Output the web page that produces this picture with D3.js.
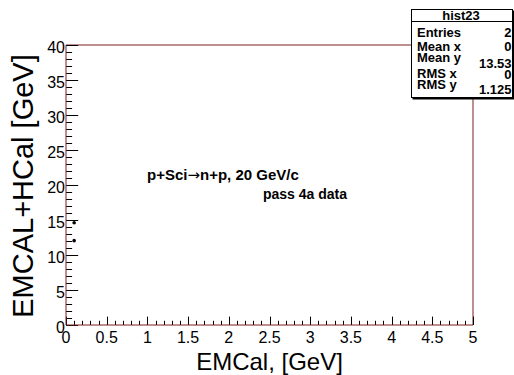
<!DOCTYPE html>
<html>
<head>
<meta charset="utf-8">
<script src="https://cdn.jsdelivr.net/npm/d3@7"></script>
<style>
  html, body { margin: 0; padding: 0; background: #fff; }
  svg { display: block; font-family: "Liberation Sans", Arial, Helvetica, sans-serif; }
</style>
</head>
<body>
<svg id="c" width="514" height="375"></svg>
<script>
// Histogram entries (x, y) drawn as markers
const pointX = [0.1, 0.1];
const pointY = [14.6, 12.05];

// Axis ranges and tick labels
const xDomain = [0, 5];
const yDomain = [0, 40];
const xTickValues = [0, 0.5, 1, 1.5, 2, 2.5, 3, 3.5, 4, 4.5, 5];
const xTickLabels = ["0", "0.5", "1", "1.5", "2", "2.5", "3", "3.5", "4", "4.5", "5"];
const yTickValues = [0, 5, 10, 15, 20, 25, 30, 35, 40];
const yTickLabels = ["0", "5", "10", "15", "20", "25", "30", "35", "40"];

// Statistics box rows
const statNames = ["Entries", "Mean x", "Mean y", "RMS x", "RMS y"];
const statValues = ["2", "0", "13.53", "0", "1.125"];

const svg = d3.select("#c");
const frame = { left: 66, right: 473, top: 45, bottom: 325 };
const axisColor = "#7a1f1f";

const x = d3.scaleLinear().domain(xDomain).range([frame.left, frame.right]);
const y = d3.scaleLinear().domain(yDomain).range([frame.bottom, frame.top]);

// Frame top and right edges
svg.append("path")
  .attr("d", `M${frame.left},${frame.top}H${frame.right}V${frame.bottom}`)
  .attr("fill", "none").attr("stroke", axisColor).attr("stroke-width", 1);

// Ticks drawn inward, major and minor
const xMajorLen = 8.4, yMajorLen = 12.2;
const xMinor = d3.range(0, 5.0001, 0.1);
const yMinor = d3.range(0, 40.0001, 1);

const gx = svg.append("g");
gx.selectAll("line.minor").data(xMinor).join("line")
  .attr("x1", d => Math.round(x(d)) + 0.5).attr("x2", d => Math.round(x(d)) + 0.5)
  .attr("y1", frame.bottom).attr("y2", frame.bottom - xMajorLen / 2)
  .attr("stroke", "#000").attr("stroke-width", 1);
gx.selectAll("line.major").data(xTickValues).join("line")
  .attr("x1", d => Math.round(x(d)) + 0.5).attr("x2", d => Math.round(x(d)) + 0.5)
  .attr("y1", frame.bottom).attr("y2", frame.bottom - xMajorLen)
  .attr("stroke", "#000").attr("stroke-width", 1);
gx.selectAll("text").data(xTickValues).join("text")
  .attr("x", d => x(d)).attr("y", frame.bottom + 17.5)
  .attr("text-anchor", "middle").attr("font-size", 16).attr("fill", "#000")
  .text((d, i) => xTickLabels[i]);

const gy = svg.append("g");
gy.selectAll("line.minor").data(yMinor).join("line")
  .attr("x1", frame.left).attr("x2", frame.left + yMajorLen / 2)
  .attr("y1", d => Math.round(y(d)) + 0.5).attr("y2", d => Math.round(y(d)) + 0.5)
  .attr("stroke", "#000").attr("stroke-width", 1);
gy.selectAll("line.major").data(yTickValues).join("line")
  .attr("x1", frame.left).attr("x2", frame.left + yMajorLen)
  .attr("y1", d => Math.round(y(d)) + 0.5).attr("y2", d => Math.round(y(d)) + 0.5)
  .attr("stroke", "#000").attr("stroke-width", 1);
gy.selectAll("text").data(yTickValues).join("text")
  .attr("x", frame.left - 1).attr("y", d => y(d) + 8)
  .attr("text-anchor", "end").attr("font-size", 16).attr("fill", "#000")
  .text((d, i) => yTickLabels[i]);

// Axis lines
svg.append("path")
  .attr("d", `M${frame.left},${frame.top}V${frame.bottom}H${frame.right}`)
  .attr("fill", "none").attr("stroke", axisColor).attr("stroke-width", 1);

// Axis titles
svg.append("text")
  .attr("x", (frame.left + frame.right) / 2).attr("y", 370)
  .attr("text-anchor", "middle").attr("font-size", 24).attr("fill", "#000")
  .text("EMCal, [GeV]");
svg.append("text")
  .attr("transform", `translate(33,${(frame.top + frame.bottom) / 2 + 1}) rotate(-90)`)
  .attr("text-anchor", "middle").attr("font-size", 29).attr("fill", "#000")
  .text("EMCAL+HCal [GeV]");

// Data markers
svg.append("g").selectAll("circle").data(pointX).join("circle")
  .attr("cx", d => x(d)).attr("cy", (d, i) => y(pointY[i]))
  .attr("r", 1.8).attr("fill", "#000");

// Annotations
const title = svg.append("text")
  .attr("x", 147).attr("y", 180)
  .attr("font-size", 15).attr("font-weight", "bold").attr("fill", "#000");
title.append("tspan").text("p+Sci");
title.append("tspan").attr("font-family", "DejaVu Sans").attr("font-weight", "normal")
  .attr("font-size", 15).text("\u2192");
title.append("tspan").text("n+p, 20 GeV/c");
svg.append("text")
  .attr("x", 263).attr("y", 198.5)
  .attr("font-size", 14).attr("font-weight", "bold").attr("fill", "#000")
  .text("pass 4a data");

// Statistics box
const box = { left: 411, top: 9, right: 513, bottom: 98 };
svg.append("rect")
  .attr("x", box.left + 1.5).attr("y", box.top + 1.5)
  .attr("width", box.right - box.left).attr("height", box.bottom - box.top)
  .attr("fill", "#000");
svg.append("rect")
  .attr("x", box.left + 0.5).attr("y", box.top + 0.5)
  .attr("width", box.right - box.left - 1).attr("height", box.bottom - box.top - 1)
  .attr("fill", "#fff").attr("stroke", "#000").attr("stroke-width", 1);
svg.append("line")
  .attr("x1", box.left).attr("x2", box.right)
  .attr("y1", 21.5).attr("y2", 21.5)
  .attr("stroke", "#000");
svg.append("text")
  .attr("x", 461).attr("y", 19.5)
  .attr("text-anchor", "middle").attr("font-size", 13).attr("font-weight", "bold")
  .text("hist23");
const nameY = [36.5, 50.5, 61.5, 77.5, 88.5];
const valueY = [36.5, 50.5, 67.5, 78.5, 94];
const stats = svg.append("g").attr("font-size", 13).attr("font-weight", "bold");
stats.selectAll("text.name").data(statNames).join("text")
  .attr("class", "name").attr("x", box.left + 6).attr("y", (d, i) => nameY[i])
  .text(d => d);
stats.selectAll("text.val").data(statValues).join("text")
  .attr("class", "val").attr("x", box.right - 1.5).attr("y", (d, i) => valueY[i])
  .attr("text-anchor", "end")
  .text(d => d);
</script>
</body>
</html>
